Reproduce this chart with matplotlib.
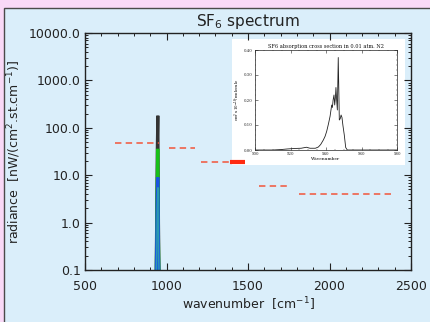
import matplotlib.pyplot as plt
from matplotlib.patches import Rectangle
from matplotlib.ticker import MultipleLocator, LogLocator, FixedLocator, FuncFormatter, NullFormatter

# main spectrum (radiance near the SF6 band, several resolutions)
spec_wn = [936, 940, 943, 945, 946, 947, 948, 949, 951, 955]
rad_black = [0.05, 2.0, 30.0, 80.0, 120.0, 180.0, 60.0, 20.0, 1.0, 0.05]
rad_gray = [0.05, 0.5, 4.0, 10.0, 14.0, 15.0, 8.0, 3.0, 0.3, 0.05]
rad_green = [0.05, 0.8, 8.0, 20.0, 30.0, 36.0, 15.0, 5.0, 0.4, 0.05]
rad_teal = [0.05, 0.3, 2.0, 4.0, 5.0, 5.5, 3.0, 1.0, 0.2, 0.05]
rad_blue = [0.05, 0.4, 3.0, 6.0, 8.0, 9.0, 5.0, 2.0, 0.2, 0.05]

# detection limits (dashed red segments)
lim_start = [684, 1015, 1212, 1567, 1813]
lim_end = [954, 1175, 1390, 1752, 2390]
lim_val = [48, 38, 19, 6.0, 4.0]
bar_wn = [1390, 1480]
bar_val = [19, 19]

# inset: SF6 absorption cross section
inset_wn = [900, 905, 910, 915, 918, 922, 926, 929, 931, 934, 935.7, 937, 938.5,
            939.5, 940.4, 941.4, 942.3, 942.8, 943.2, 943.6, 944.0, 944.5, 944.9,
            945.3, 945.6, 946.0, 946.4, 946.9, 947.2, 947.5, 948.0, 948.5, 949.0,
            949.5, 950.3, 951.1, 952.0, 955, 960, 970, 980]
inset_xs = [0, 0, 0, 0.002, 0.004, 0.006, 0.007, 0.011, 0.007, 0.007, 0.012, 0.022,
            0.04, 0.055, 0.075, 0.105, 0.135, 0.16, 0.18, 0.17, 0.2, 0.22, 0.18,
            0.21, 0.25, 0.2, 0.16, 0.37, 0.25, 0.12, 0.125, 0.14, 0.13, 0.1, 0.06,
            0.01, 0.0, 0, 0, 0, 0]

W, H = 430, 322
fig = plt.figure(figsize=(W / 100, H / 100), dpi=100, facecolor='#f9d9f7')
fig.patches.append(Rectangle((4 / W, -0.01), 1.0, (H - 8) / H + 0.01, transform=fig.transFigure,
                             facecolor='#daeefa', edgecolor='#4a4a4a', lw=1.0, zorder=-1))

# white box behind the inset
box = fig.add_axes([232 / W, (H - 165) / H, 173 / W, 126 / H], zorder=1)
box.set_facecolor('white')
box.set_xticks([])
box.set_yticks([])
for s in box.spines.values():
    s.set_visible(False)

ax = fig.add_axes([85 / W, (H - 270) / H, 326 / W, 237 / H], zorder=2)
ax.set_facecolor('none')

spec_style = dict(solid_joinstyle='bevel', solid_capstyle='butt')
ax.plot(spec_wn, rad_black, color='#333333', lw=2.2, **spec_style)
ax.plot([w - 1.5 for w in spec_wn], rad_gray, color='#8f9aa6', lw=1.2, **spec_style)
ax.plot(spec_wn, rad_green, color='#18c018', lw=2.2, **spec_style)
ax.plot(spec_wn, rad_blue, color='#1a55e0', lw=2.2, **spec_style)
ax.plot([w + 0.5 for w in spec_wn], rad_teal, color='#2a9ab0', lw=1.0, **spec_style)

for a, b, v in zip(lim_start, lim_end, lim_val):
    ax.plot([a, b], [v, v], color='#f2553a', lw=1.1, linestyle=(0, (4.2, 2.8)))
ax.plot(bar_wn, bar_val, color='#ff2a10', lw=3.0, solid_capstyle='butt', clip_on=False)

ax.set_xlim(500, 2500)
ax.set_yscale('log')
ax.set_ylim(0.1, 10000)
ax.xaxis.set_major_locator(MultipleLocator(500))
ax.xaxis.set_minor_locator(MultipleLocator(100))
ax.yaxis.set_major_locator(LogLocator(base=10, numticks=10))
ax.yaxis.set_minor_locator(LogLocator(base=10, subs=range(2, 10), numticks=10))
ax.yaxis.set_minor_formatter(NullFormatter())
ax.yaxis.set_major_formatter(FuncFormatter(lambda v, p: '%.1f' % v))
ax.tick_params(which='both', direction='in', top=True, right=True, colors='#222222',
               labelsize=9, labelcolor='#222222')
ax.tick_params(which='major', length=5, width=0.8)
ax.tick_params(which='minor', length=2.5, width=0.7)
ax.tick_params(axis='x', pad=7)
ax.tick_params(axis='y', pad=3)
for s in ax.spines.values():
    s.set_color('#222222')
    s.set_linewidth(1.0)

ax.set_xlabel('wavenumber  [cm$^{-1}$]', fontsize=9, color='#222222', labelpad=2)
ax.set_ylabel('radiance  [nW/(cm$^{2}$.st.cm$^{-1}$)]', fontsize=9, color='#222222', labelpad=4)
ax.set_title('SF$_6$ spectrum', fontsize=11, color='#222222', pad=5)

# inset plot
ins = fig.add_axes([255 / W, (H - 150) / H, 142 / W, 100 / H], zorder=3)
ins.set_facecolor('white')
ins.plot(inset_wn, inset_xs, color='#222222', lw=0.6)
ins.set_xlim(900, 980)
ins.set_ylim(0, 0.40)
ins.xaxis.set_major_locator(FixedLocator([900, 920, 940, 960, 980]))
ins.xaxis.set_minor_locator(MultipleLocator(5))
ins.yaxis.set_major_locator(MultipleLocator(0.1))
ins.yaxis.set_minor_locator(MultipleLocator(0.02))
ins.yaxis.set_major_formatter(FuncFormatter(lambda v, p: '%.2f' % v))
ins.tick_params(which='both', direction='in', top=True, right=True, labelsize=2.8, pad=1.5,
                colors='#222222')
ins.tick_params(which='major', length=2, width=0.4)
ins.tick_params(which='minor', length=1, width=0.3)
for s in ins.spines.values():
    s.set_linewidth(0.5)
    s.set_color('#222222')
for lab in ins.get_xticklabels() + ins.get_yticklabels():
    lab.set_family('serif')
ins.set_title('SF6 absorption cross section in 0.01 atm. N2', fontsize=3.6, family='serif',
              pad=1.5, color='#111111')
ins.set_xlabel('Wavenumber', fontsize=3.2, family='serif', labelpad=1)
ins.set_ylabel('cm$^2$ x10$^{-18}$/molecule', fontsize=2.8, family='serif', labelpad=1.5)

fig.savefig('out.png', dpi=100, facecolor=fig.get_facecolor())
